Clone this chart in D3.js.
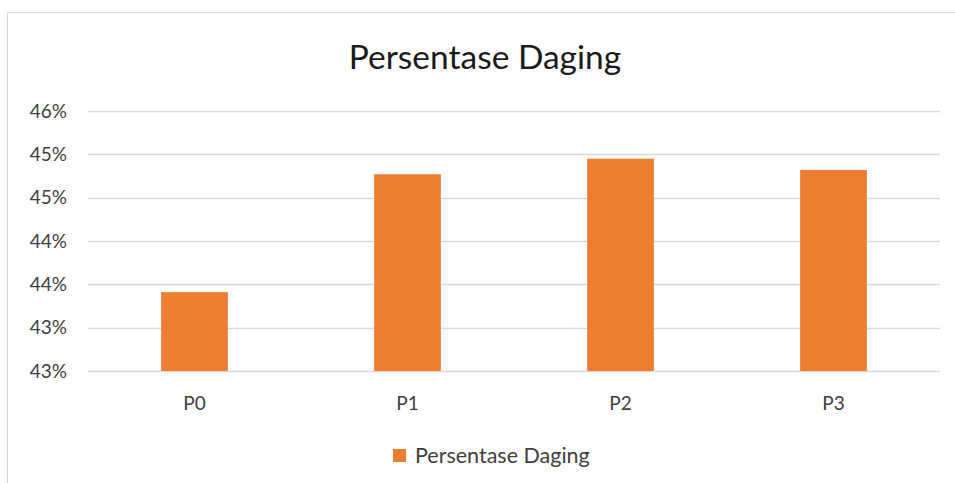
<!DOCTYPE html>
<html>
<head>
<meta charset="utf-8">
<script src="https://cdn.jsdelivr.net/npm/d3@7/dist/d3.min.js"></script>
<style>
  html, body { margin: 0; padding: 0; background: #fff; }
  svg { display: block; }
</style>
</head>
<body>
<svg id="chart" width="955" height="483"></svg>
<script>
// Meat percentage per treatment
const categories = ["P0", "P1", "P2", "P3"];
const values = [43.41, 44.77, 44.95, 44.82];
const tickValues = [42.5, 43.0, 43.5, 44.0, 44.5, 45.0, 45.5];
const seriesName = "Persentase Daging";
const chartTitle = "Persentase Daging";

const W = 955, H = 483;
const margin = { top: 111, right: 15, bottom: 112, left: 88 };
const font = "Lato, 'Open Sans', sans-serif";
const svg = d3.select("#chart");

// chart area frame
svg.append("path")
  .attr("d", `M7.5,${H} V12.5 H${W}`)
  .attr("fill", "none")
  .attr("stroke", "#d9d9d9")
  .attr("stroke-width", 1);

const x = d3.scaleBand()
  .domain(categories)
  .range([margin.left, W - margin.right])
  .padding(0);

const y = d3.scaleLinear()
  .domain([42.5, 45.5])
  .range([H - margin.bottom, margin.top]);

// Excel-style whole-percent labels (half values round up)
const fmt = v => Math.round(v) + "%";

// gridlines
svg.append("g")
  .selectAll("line")
  .data(tickValues)
  .join("line")
  .attr("x1", margin.left)
  .attr("x2", W - margin.right)
  .attr("y1", d => Math.round(y(d)) + 0.5)
  .attr("y2", d => Math.round(y(d)) + 0.5)
  .attr("stroke", "#d9d9d9")
  .attr("stroke-width", 1.5);

// y axis labels
const yAxis = d3.axisLeft(y).tickValues(tickValues).tickFormat(fmt).tickSize(0).tickPadding(21);
const gy = svg.append("g").attr("transform", `translate(${margin.left},0)`).call(yAxis);
gy.select(".domain").remove();
gy.selectAll("text")
  .attr("font-family", font)
  .attr("font-size", 19)
  .attr("fill", "#404040");

// bars
const barFrac = 0.313;
svg.append("g")
  .selectAll("rect")
  .data(categories.map((c, i) => ({ c, v: values[i] })))
  .join("rect")
  .attr("x", d => x(d.c) + x.bandwidth() * (1 - barFrac) / 2)
  .attr("width", x.bandwidth() * barFrac)
  .attr("y", d => y(d.v))
  .attr("height", d => y(42.5) - y(d.v))
  .attr("fill", "#ed7d31");

// x axis labels
const xAxis = d3.axisBottom(x).tickSize(0).tickPadding(26);
const gx = svg.append("g").attr("transform", `translate(0,${y(42.5)})`).call(xAxis);
gx.select(".domain").remove();
gx.selectAll("text")
  .attr("font-family", font)
  .attr("font-size", 19)
  .attr("fill", "#404040");

// title
svg.append("text")
  .attr("x", 485)
  .attr("y", 69)
  .attr("text-anchor", "middle")
  .attr("font-family", font)
  .attr("font-size", 33.5)
  .attr("fill", "#1a1a1a")
  .text(chartTitle);

// legend
const lg = svg.append("g").attr("transform", "translate(393,449)");
lg.append("rect").attr("width", 13).attr("height", 13).attr("fill", "#ed7d31");
lg.append("text")
  .attr("x", 22)
  .attr("y", 14)
  .attr("font-family", font)
  .attr("font-size", 21.5)
  .attr("fill", "#404040")
  .text(seriesName);
</script>
</body>
</html>
